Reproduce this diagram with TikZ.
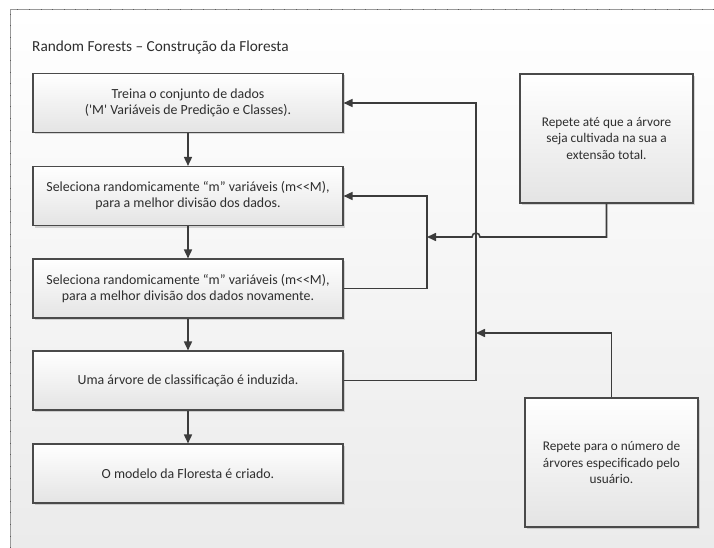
\documentclass[tikz,border=0pt]{standalone}
\usepackage{fontspec}
\setmainfont{Carlito}
\usetikzlibrary{arrows.meta,shadows}

\definecolor{boxline}{HTML}{4A4A4A}
\definecolor{boxbot}{HTML}{E4E4E4}
\definecolor{txt}{HTML}{2E2E2E}
\definecolor{wire}{HTML}{3C3C3C}
\definecolor{framecol}{HTML}{9A9A9A}
\definecolor{bgbot}{HTML}{EBEBEB}

\tikzset{
  card/.style={draw=boxline, line width=1.1pt, top color=white, bottom color=boxbot,
    align=center, text=txt, inner sep=0pt,
    drop shadow={shadow xshift=2pt, shadow yshift=-2pt, opacity=0.15, fill=black}},
  stepbox/.style={card, minimum width=310pt, minimum height=59pt,
    font=\fontsize{13.9}{16}\selectfont},
  sidebox/.style={card, minimum width=173pt, minimum height=129pt,
    font=\fontsize{13.3}{16.5}\selectfont},
  wire/.style={draw=wire, line width=1.6pt},
  arr/.style={wire, -{Triangle[length=9pt,width=8pt]}},
}

\begin{document}
\begin{tikzpicture}[x=1pt,y=-1pt]
  \useasboundingbox (0,0) rectangle (714,548);
  % page area
  \shade[top color=white, bottom color=bgbot] (10,10) rectangle (714,548);
  \draw[framecol, line width=1pt] (714,10) -- (10,10) -- (10,548);
  \draw[framecol!60!black, line width=1pt, dash pattern=on 0.6pt off 11pt] (714,10) -- (10,10) -- (10,548);

  % title
  \node[anchor=base west, text=txt, font=\fontsize{15.3}{18}\selectfont, inner sep=0pt]
    (title) at (32,52) {Random Forests – Construção da Floresta};

  % main steps
  \node[stepbox] (b1) at (188,103)   {Treina o conjunto de dados\\(\textquotesingle M\textquotesingle{} Variáveis de Predição e Classes).};
  \node[stepbox] (b2) at (188,196)   {Seleciona randomicamente “m” variáveis (m<\kern0pt<M),\\para a melhor divisão dos dados.};
  \node[stepbox] (b3) at (188,288.5) {Seleciona randomicamente “m” variáveis (m<\kern0pt<M),\\para a melhor divisão dos dados novamente.};
  \node[stepbox] (b4) at (188,380.5) {Uma árvore de classificação é induzida.};
  \node[stepbox] (b5) at (188,473.5) {O modelo da Floresta é criado.};

  % side notes
  \node[sidebox] (r1) at (606.5,138.5) {Repete até que a árvore\\seja cultivada na sua a\\extensão total.};
  \node[sidebox] (r2) at (611.5,462.5) {Repete para o número de\\árvores especificado pelo\\usuário.};

  % loop rails
  \coordinate (outer) at (476,0);
  \coordinate (inner) at (427,0);
  \coordinate (j1) at (427,237);
  \coordinate (j2) at (476,333);

  % flow down
  \draw[arr] (b1) -- (b2);
  \draw[arr] (b2) -- (b3);
  \draw[arr] (b3) -- (b4);
  \draw[arr] (b4) -- (b5);

  % outer loop: tree induced -> back to training
  \draw[arr] (b4.east) -- (b4.east -| outer) -- (b1.east -| outer) -- (b1.east);
  % inner loop: second selection -> back to first selection
  \draw[arr] (b3.east) -- (b3.east -| inner) -- (b2.east -| inner) -- (b2.east);

  % side notes feeding the loops (with a hop over the outer rail)
  \draw[arr] (r1.south) -- (r1.south |- j1) -- (480,237)
    arc[start angle=0, end angle=180, radius=4pt] -- (j1);
  \draw[arr] (r2.north) -- (r2.north |- j2) -- (j2);
\end{tikzpicture}
\end{document}
